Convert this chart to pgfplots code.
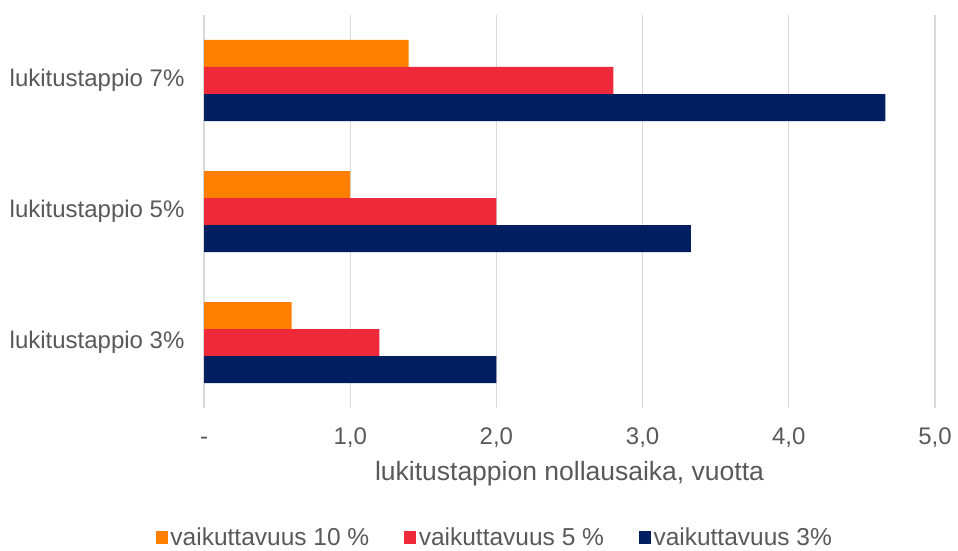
\documentclass[border=0pt]{standalone}
\usepackage{pgfplots}
\pgfplotsset{compat=1.18}
\usepackage{fontspec}
\setmainfont{Liberation Sans}
\definecolor{cOrange}{HTML}{FF8000}
\definecolor{cRed}{HTML}{EE2A3A}
\definecolor{cNavy}{HTML}{001E60}
\definecolor{txt}{HTML}{595959}
\definecolor{gridc}{HTML}{D9D9D9}
\begin{document}
\begin{tikzpicture}
\useasboundingbox (0pt,0pt) rectangle (958pt,551pt);
\begin{axis}[
  at={(204pt,143pt)}, anchor=south west,
  scale only axis, width=731pt, height=393pt,
  xbar, bar width=27pt,
  xmin=0, xmax=5, ymin=-0.5, ymax=2.5, y dir=reverse,
  ytick={0,1,2},
  yticklabels={lukitustappio 7\%, lukitustappio 5\%, lukitustappio 3\%},
  xtick={0,1,2,3,4,5},
  xticklabels={-,{1,0},{2,0},{3,0},{4,0},{5,0}},
  axis line style={draw=none},
  major tick length=0pt,
  xmajorgrids, grid style={draw=gridc, line width=1.2pt},
  ymajorgrids=false,
  tick label style={font=\fontsize{24}{28}\selectfont, text=txt},
  yticklabel style={xshift=-16pt},
  xticklabel style={yshift=-16pt, text height=17pt, text depth=3pt},
  xlabel={lukitustappion nollausaika, vuotta},
  xlabel style={font=\fontsize{26.5}{30}\selectfont, text=txt, yshift=-7pt},
  legend style={at={(0.398,-0.33)}, anchor=center, draw=none, fill=none,
    font=\fontsize{24.5}{28}\selectfont, text=txt, legend columns=3,
    /tikz/every even column/.append style={column sep=33pt},
    /tikz/every odd column/.append style={column sep=0.5pt},
    inner sep=0pt},
  legend image code/.code={\fill[#1] (0pt,-6.5pt) rectangle (12pt,6.5pt);},
  legend cell align=left,
]
\addplot[fill=cOrange, draw=none, bar shift=27pt] coordinates {(1.40,0) (1.00,1) (0.60,2)};
\addplot[fill=cRed, draw=none, bar shift=0pt] coordinates {(2.80,0) (2.00,1) (1.20,2)};
\addplot[fill=cNavy, draw=none, bar shift=-27pt] coordinates {(4.66,0) (3.33,1) (2.00,2)};
\legend{vaikuttavuus 10 \%, vaikuttavuus 5 \%, vaikuttavuus 3\%}
\end{axis}
\end{tikzpicture}
\end{document}
